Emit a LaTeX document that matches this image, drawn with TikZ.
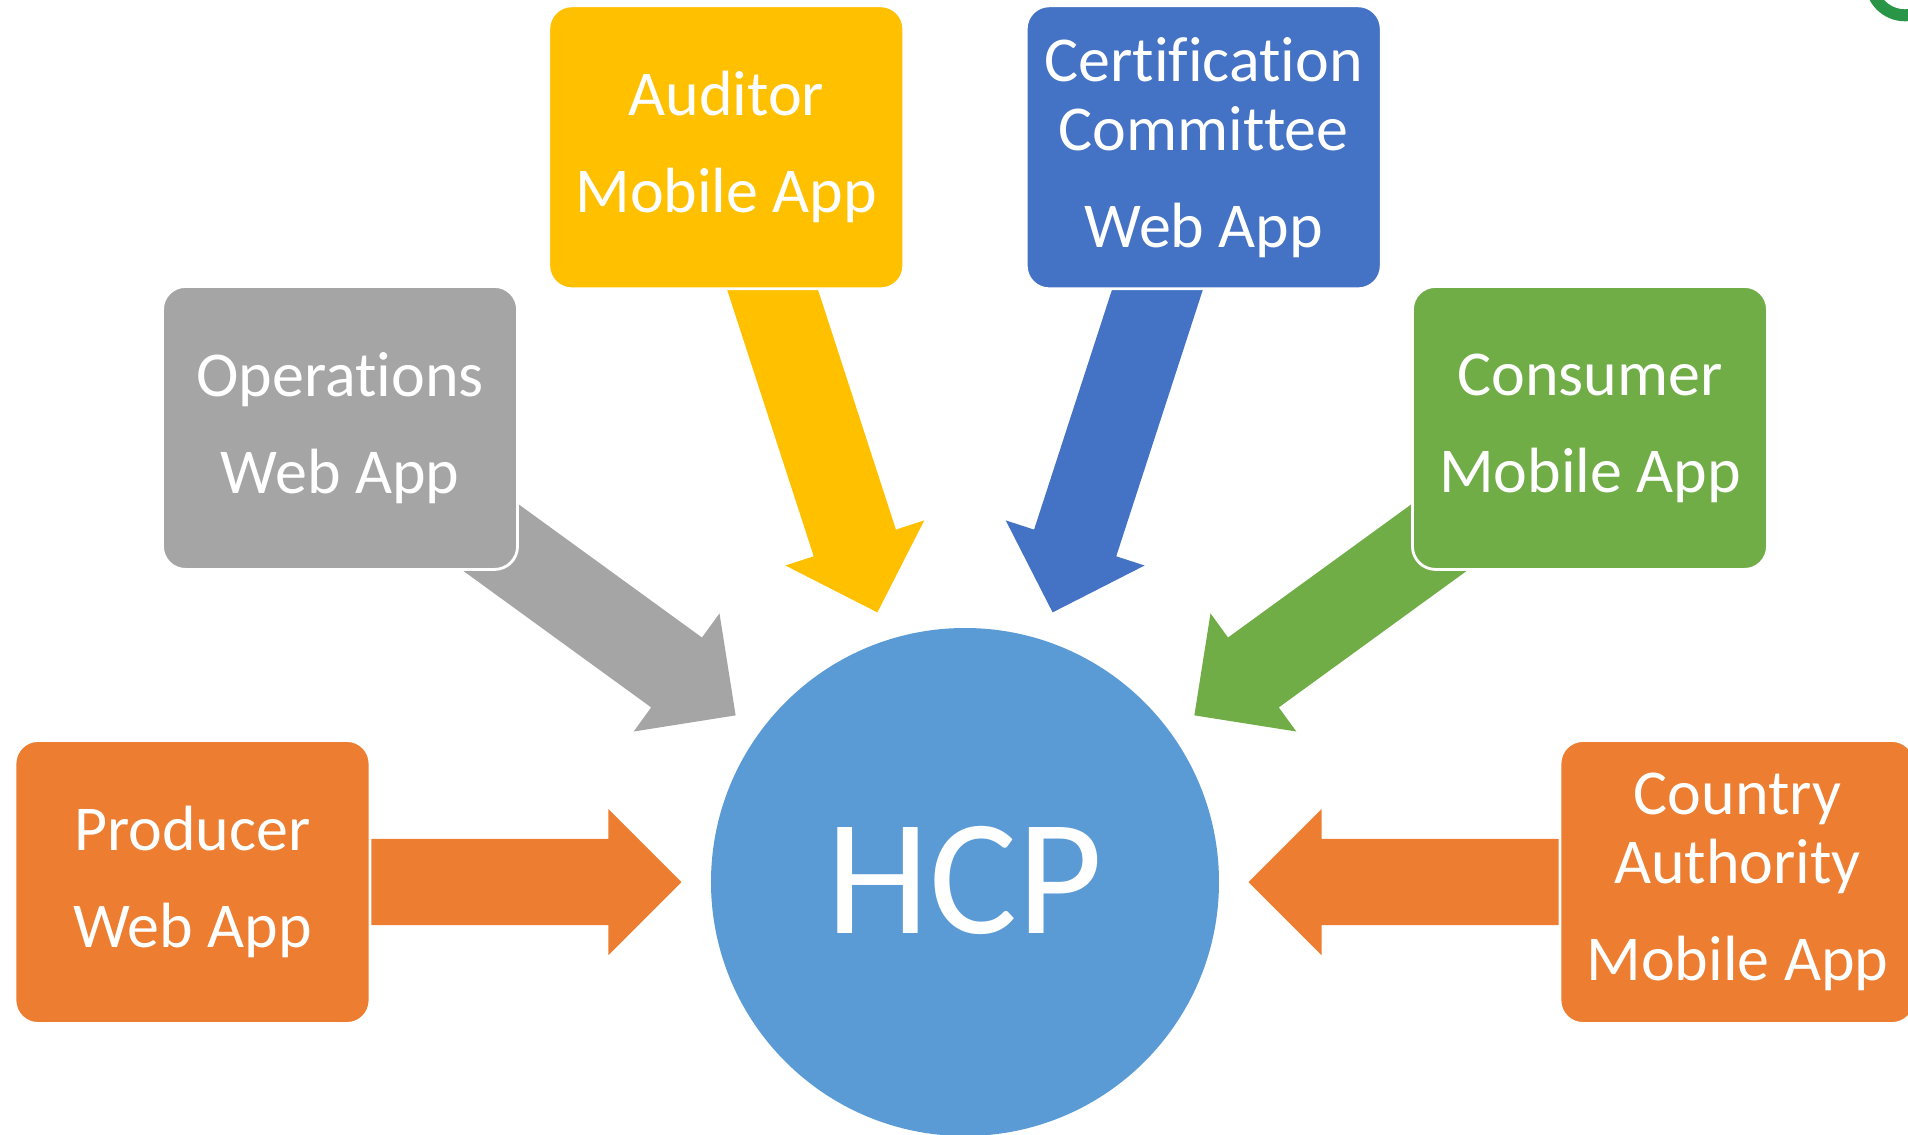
\documentclass[tikz,border=0pt]{standalone}
\usepackage{fontspec}
\setmainfont{Carlito}[Ligatures=NoCommon]
\usetikzlibrary{calc}

\definecolor{boxorange}{HTML}{ED7D31}
\definecolor{boxgray}{HTML}{A5A5A5}
\definecolor{boxgold}{HTML}{FFC000}
\definecolor{boxblue}{HTML}{4472C4}
\definecolor{boxgreen}{HTML}{70AD47}
\definecolor{hubblue}{HTML}{5B9BD5}
\definecolor{logogreen}{RGB}{40,150,70}

\pgfdeclarelayer{back}
\pgfsetlayers{back,main}

\tikzset{
  appbox/.style={draw=white, line width=0.8pt, rounded corners=0.23cm,
    minimum width=3.55cm, minimum height=2.83cm, inner sep=0pt,
    align=center, text=white, font=\fontsize{18.2}{19.7}\selectfont},
  hub/.style={circle, fill=hubblue, minimum size=5.08cm, inner sep=0pt,
    text=white, font=\fontsize{47}{50}\selectfont}
}

\begin{document}
\begin{tikzpicture}
    \useasboundingbox (-9.65,-2.52) rectangle (9.43,8.82);

    % Hub
    \node[hub] (hcp) at (0,0) {\raisebox{0.04cm}{HCP}};

    % Apps round the hub
    \node[appbox, fill=boxorange] (producer) at (180:7.725) {Producer\\[7.9pt]Web App};
    \node[appbox, fill=boxgray] (operations) at (144:7.725) {Operations\\[7.9pt]Web App};
    \node[appbox, fill=boxgold] (auditor) at (108:7.725) {Auditor\\[7.9pt]Mobile App};
    \node[appbox, fill=boxblue] (certification) at (72:7.725) {Certification\\Committee\\[7.9pt]Web App};
    \node[appbox, fill=boxgreen] (consumer) at (36:7.725) {Consumer\\[7.9pt]Mobile App};
    \node[appbox, fill=boxorange] (country) at (0:7.725) {Country\\Authority\\[7.9pt]Mobile App};

    % Block arrows into the hub
    \begin{pgfonlayer}{back}
    \foreach \app/\col in {producer/boxorange, operations/boxgray, auditor/boxgold,
        certification/boxblue, consumer/boxgreen, country/boxorange}{
        \fill[\col] ($(hcp.center)!2.835cm!(\app.center)$)
            -- ($(hcp.center)!3.565cm!(\app.center)!0.73cm!90:(\app.center)$)
            -- ($(hcp.center)!3.565cm!(\app.center)!0.432cm!90:(\app.center)$)
            -- ($(hcp.center)!6.6cm!(\app.center)!0.432cm!90:(\app.center)$)
            -- ($(hcp.center)!6.6cm!(\app.center)!0.432cm!-90:(\app.center)$)
            -- ($(hcp.center)!3.565cm!(\app.center)!0.432cm!-90:(\app.center)$)
            -- ($(hcp.center)!3.565cm!(\app.center)!0.73cm!-90:(\app.center)$)
            -- cycle;
    }
    \end{pgfonlayer}

    % Logo corner
    \draw[logogreen, line width=0.12cm] (9.40,9.007) circle (0.34);
\end{tikzpicture}
\end{document}
